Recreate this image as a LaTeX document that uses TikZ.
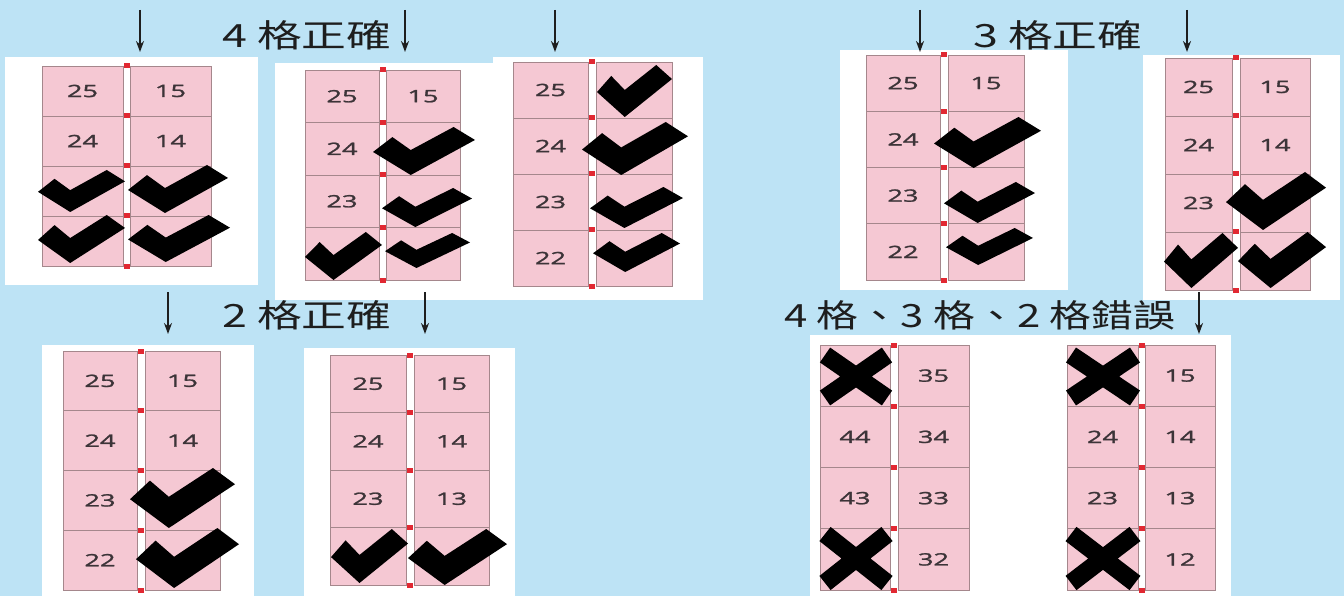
\documentclass[tikz,border=0pt]{standalone}
\usepackage{fontspec}
\usepackage{tikz}
\usetikzlibrary{arrows.meta, positioning}
\setmainfont{Open Sans}
\newfontfamily\numfont{Open Sans}[FakeBold=1.3]
\newfontfamily\cjk{Noto Sans CJK TC}
\definecolor{LockBlue}{RGB}{189, 227, 245}
\definecolor{LockPink}{RGB}{245, 200, 211}
\definecolor{LockEdge}{RGB}{165, 135, 140}
\definecolor{LockNum}{RGB}{60, 52, 56}
\definecolor{LockRed}{RGB}{225, 40, 50}
\definecolor{LockRail}{RGB}{175, 175, 175}
\definecolor{LockInk}{RGB}{30, 30, 30}

\tikzset{
  cellbox/.style={draw=LockEdge, fill=LockPink, line width=0.8pt, inner sep=0pt,
    text=LockNum, font=\numfont\fontsize{17}{17}\selectfont},
  railline/.style={draw=LockRail, line width=1pt},
  headline/.style={font=\cjk\fontsize{32}{32}\selectfont, text=LockInk, anchor=west, inner sep=0pt},
  downarrow/.style={draw=LockInk, line width=1.8pt, -{Stealth[length=11pt, width=8pt]}},
  crossline/.style={draw=black, line width=18pt},
}

\newcommand{\cellnum}[1]{\scalebox{1.6}[1]{#1}}
\newcommand{\headtext}[2][1.4]{\scalebox{#1}[1]{#2}}

% #1 id, #2 left, #3 rail left, #4 rail right, #5 right, #6 top, #7 bottom, #8 rows
\newcommand{\lockergrid}[8]{%
  \pgfmathsetmacro\rowh{(#7-#6)/4}
  \pgfmathsetmacro\lw{#3-#2}
  \pgfmathsetmacro\rw{#5-#4}
  \fill[white] (#3,#6) rectangle (#4,#7);
  \draw[railline] (#3,#6) -- (#3,#7) (#4,#6) -- (#4,#7);
  \foreach \i/\lt/\rt in {#8} {
    \node[cellbox, minimum width=\lw pt, minimum height=\rowh pt]
      (#1l\i) at ({(#2+#3)/2},{#6+(\i-0.5)*\rowh}) {\cellnum{\lt}};
    \node[cellbox, minimum width=\rw pt, minimum height=\rowh pt]
      (#1r\i) at ({(#4+#5)/2},{#6+(\i-0.5)*\rowh}) {\cellnum{\rt}};
  }
  \foreach \i in {0,...,4}
    \fill[LockRed] ({(#3+#4)/2-3},{#6+\i*\rowh-2.5}) rectangle ++(6,5);
}

\newcommand{\tickmark}[4]{%
  \fill[black, shift={(#1,#2)}, xscale={#3-#1}, yscale={#4-#2}]
    (0,0.52) -- (0.19,0.21) -- (0.37,0.48) -- (0.79,0) -- (1,0.27) -- (0.37,1) -- cycle;}
\newcommand{\crossmark}[4]{%
  \draw[crossline] ({#1+7},{#2+7}) -- ({#3-7},{#4-7}) ({#3-7},{#2+7}) -- ({#1+7},{#4-7});}

\begin{document}
\begin{tikzpicture}[x=1pt, y=-1pt]
  \useasboundingbox (0,0) rectangle (1344,596);
  \fill[LockBlue] (0,0) rectangle (1344,596);

  % white photo backgrounds
  \fill[white] (5,57) rectangle (258,285);
  \fill[white] (275,63) rectangle (497,300);
  \fill[white] (493,57) rectangle (703,300);
  \fill[white] (840,50) rectangle (1068,290);
  \fill[white] (1143,55) rectangle (1340,300);
  \fill[white] (42,345) rectangle (254,596);
  \fill[white] (304,348) rectangle (515,596);
  \fill[white] (810,335) rectangle (1231,596);

  % headings
  \node[headline] (headfour) at (222,35) {\headtext{4 格正確}};
  \node[headline] (headthree) at (973,35) {\headtext{3 格正確}};
  \node[headline] (headtwo) at (222,315) {\headtext{2 格正確}};
  \node[headline] (headwrong) at (784,315) {\headtext[1.31]{4 格、3 格、2 格錯誤}};

  \foreach \x [count=\k] in {140,405,555,920,1187} {
    \coordinate (topa\k) at (\x,10);
    \coordinate (topb\k) at (\x,52);
    \draw[downarrow] (topa\k) -- (topb\k);
  }
  \foreach \x [count=\k] in {168,425,1199} {
    \coordinate (lowa\k) at (\x,292);
    \coordinate (lowb\k) at (\x,334);
    \draw[downarrow] (lowa\k) -- (lowb\k);
  }

  % locker grids
  \lockergrid{pa}{42}{123}{130}{211}{66}{266}{1/25/15,2/24/14,3//,4//}
  \lockergrid{pb}{305}{379}{386}{460}{70}{280}{1/25/15,2/24/,3/23/,4//}
  \lockergrid{pc}{513}{588}{596}{672}{62}{286}{1/25/,2/24/,3/23/,4/22/}
  \lockergrid{pd}{866}{940}{948}{1024}{55}{280}{1/25/15,2/24/,3/23/,4/22/}
  \lockergrid{pe}{1165}{1232}{1240}{1310}{58}{290}{1/25/15,2/24/14,3/23/,4//}
  \lockergrid{pf}{63}{137}{145}{220}{351}{590}{1/25/15,2/24/14,3/23/,4/22/}
  \lockergrid{pg}{330}{406}{414}{489}{355}{585}{1/25/15,2/24/14,3/23/13,4//}
  \lockergrid{ph}{820}{890}{898}{969}{345}{590}{1//35,2/44/34,3/43/33,4//32}
  \lockergrid{pi}{1067}{1138}{1145}{1215}{345}{590}{1//15,2/24/14,3/23/13,4//12}

  % ticks
  \tickmark{38}{170}{125}{212}  \tickmark{128}{165}{228}{213}
  \tickmark{38}{215}{125}{263}  \tickmark{128}{215}{230}{262}
  \tickmark{373}{127}{475}{175} \tickmark{382}{188}{472}{227}
  \tickmark{305}{232}{382}{280} \tickmark{385}{233}{470}{268}
  \tickmark{597}{65}{672}{117}  \tickmark{582}{122}{688}{175}
  \tickmark{590}{187}{683}{228} \tickmark{593}{233}{680}{272}
  \tickmark{934}{117}{1041}{168} \tickmark{944}{182}{1035}{223}
  \tickmark{946}{228}{1033}{265}
  \tickmark{1226}{172}{1326}{230} \tickmark{1164}{233}{1238}{288}
  \tickmark{1238}{232}{1326}{288}
  \tickmark{130}{468}{235}{528} \tickmark{136}{528}{239}{588}
  \tickmark{331}{529}{408}{583} \tickmark{408}{529}{507}{585}

  % crosses
  \crossmark{818}{348}{894}{405}   \crossmark{818}{527}{894}{590}
  \crossmark{1064}{348}{1142}{405} \crossmark{1064}{527}{1142}{590}
\end{tikzpicture}
\end{document}
